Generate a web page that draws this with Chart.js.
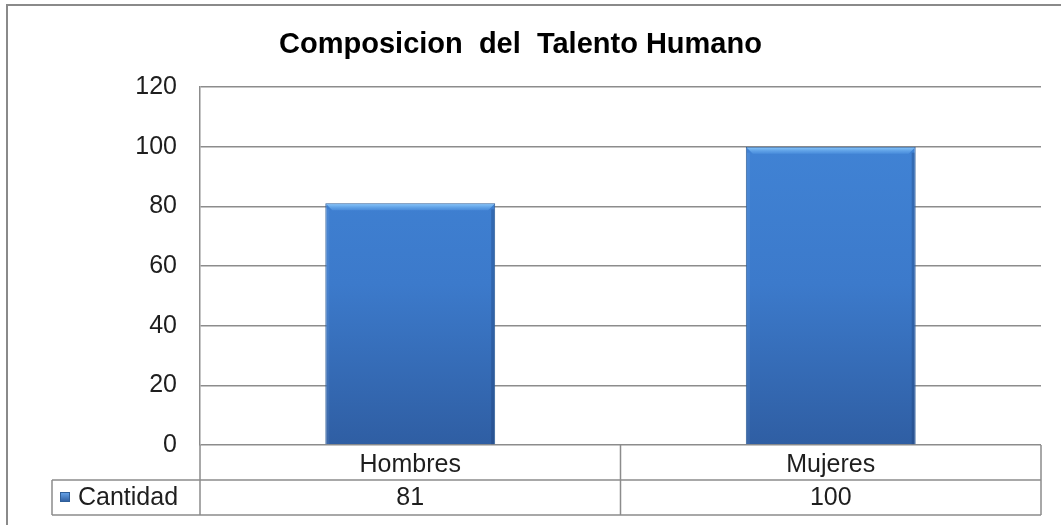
<!DOCTYPE html>
<html>
<head>
<meta charset="utf-8">
<script src="https://cdn.jsdelivr.net/npm/chart.js@4/dist/chart.umd.min.js"></script>
<style>
  html, body { margin: 0; padding: 0; background: #fff; }
  #wrap { width: 1061px; height: 525px; }
</style>
</head>
<body>
<div id="wrap"><canvas id="chart" width="1061" height="525"></canvas></div>
<script>
// Chart data
const categories = ['Hombres', 'Mujeres'];
const seriesName = 'Cantidad';
const cantidad = [81, 100];
const yTicks = [0, 20, 40, 60, 80, 100, 120];

const LINE = '#8c8c8c';
const TEXT = '#1e1e1e';
const FONT = 'Arial, "Liberation Sans", sans-serif';
const ROW_H = 35;

// Vertical blue gradient for the bars
function barFill(context) {
    const chart = context.chart;
    const area = chart.chartArea;
    if (!area) return '#3a73c2';
    const g = chart.ctx.createLinearGradient(0, area.top, 0, area.bottom);
    g.addColorStop(0, '#4286d8');
    g.addColorStop(0.55, '#3c7acb');
    g.addColorStop(1, '#2f5ea3');
    return g;
}

// Outer frame around the whole chart
const framePlugin = {
    id: 'frame',
    beforeDraw(chart) {
        const ctx = chart.ctx;
        ctx.save();
        ctx.fillStyle = '#fff';
        ctx.fillRect(0, 0, chart.width, chart.height);
        ctx.strokeStyle = '#8a8a8a';
        ctx.lineWidth = 2;
        ctx.strokeRect(7, 5, chart.width + 20, chart.height + 20);
        ctx.restore();
    }
};

// Light bevel on top of each bar
const bevelPlugin = {
    id: 'bevel',
    afterDatasetsDraw(chart) {
        const ctx = chart.ctx;
        const meta = chart.getDatasetMeta(0);
        ctx.save();
        meta.data.forEach(bar => {
            const l = bar.x - bar.width / 2, r = bar.x + bar.width / 2, t = bar.y;
            const g = ctx.createLinearGradient(0, t, 0, t + 7);
            g.addColorStop(0, 'rgba(150,210,255,0.95)');
            g.addColorStop(1, 'rgba(100,170,240,0.3)');
            ctx.fillStyle = g;
            ctx.beginPath();
            ctx.moveTo(l + 1, t + 1);
            ctx.lineTo(r - 1, t + 1);
            ctx.lineTo(r - 7, t + 7);
            ctx.lineTo(l + 7, t + 7);
            ctx.closePath();
            ctx.fill();
            ctx.fillStyle = 'rgba(25,55,105,0.3)';
            ctx.fillRect(r - 4, t + 6, 3, bar.base - t - 6);
            ctx.fillStyle = 'rgba(255,255,255,0.06)';
            ctx.fillRect(l + 1, t + 6, 3, bar.base - t - 6);
        });
        ctx.restore();
    }
};

// Data table under the x axis
const tablePlugin = {
    id: 'dataTable',
    afterDraw(chart) {
        const ctx = chart.ctx;
        const area = chart.chartArea;
        const x = chart.scales.x;
        const catW = (area.right - area.left) / categories.length;
        const y0 = area.bottom, y1 = y0 + ROW_H, y2 = y1 + ROW_H;
        const tableLeft = 52;

        ctx.save();
        ctx.strokeStyle = LINE;
        ctx.lineWidth = 1.5;
        ctx.beginPath();
        ctx.moveTo(tableLeft, y1); ctx.lineTo(area.right, y1);
        ctx.moveTo(tableLeft, y2); ctx.lineTo(area.right, y2);
        ctx.moveTo(tableLeft, y1); ctx.lineTo(tableLeft, y2);
        ctx.moveTo(area.left, y0); ctx.lineTo(area.left, y2);
        for (let i = 0; i < categories.length; i++) {
            const edge = x.getPixelForValue(i) + catW / 2;
            ctx.moveTo(edge, y0); ctx.lineTo(edge, y2);
        }
        ctx.stroke();

        // legend key
        const kx = 60, ky = y1 + 12, ks = 10;
        const kg = ctx.createLinearGradient(0, ky, 0, ky + ks);
        kg.addColorStop(0, '#6aa8ee');
        kg.addColorStop(1, '#2d5b9c');
        ctx.fillStyle = kg;
        ctx.fillRect(kx, ky, ks, ks);
        ctx.strokeStyle = '#2f5f99';
        ctx.lineWidth = 1;
        ctx.strokeRect(kx + 0.5, ky + 0.5, ks - 1, ks - 1);

        ctx.fillStyle = TEXT;
        ctx.font = '25px ' + FONT;
        ctx.textBaseline = 'middle';
        ctx.textAlign = 'left';
        ctx.fillText(seriesName, 78, (y1 + y2) / 2 + 1);
        ctx.textAlign = 'center';
        cantidad.forEach((v, i) => {
            ctx.fillText(String(v), x.getPixelForValue(i), (y1 + y2) / 2 + 1);
        });
        ctx.restore();
    }
};

new Chart(document.getElementById('chart'), {
    type: 'bar',
    data: {
        labels: categories,
        datasets: [{
            label: seriesName,
            data: cantidad,
            backgroundColor: barFill,
            borderColor: '#2f5f99',
            borderWidth: 1,
            barPercentage: 0.404,
            categoryPercentage: 1.0
        }]
    },
    options: {
        responsive: false,
        animation: false,
        layout: { padding: { left: 0, right: 20, top: 0, bottom: 0 } },
        plugins: {
            legend: { display: false },
            tooltip: { enabled: false },
            title: {
                display: true,
                text: 'Composicion  del  Talento Humano',
                color: '#000',
                font: { family: FONT, size: 29, weight: 'bold' },
                padding: { top: 28, bottom: 24.2 }
            }
        },
        scales: {
            x: {
                grid: { display: false },
                border: { display: false },
                ticks: { color: TEXT, font: { family: FONT, size: 25 }, padding: -3 },
                afterFit(scale) { scale.height = 80; }
            },
            y: {
                min: 0,
                max: 120,
                afterBuildTicks(scale) { scale.ticks = yTicks.map(v => ({ value: v })); },
                grid: { color: LINE, lineWidth: 1.5, drawTicks: false },
                border: { display: true, color: LINE, width: 1.5 },
                ticks: { color: TEXT, font: { family: FONT, size: 25 }, padding: 23 },
                afterFit(scale) { scale.width = 200; }
            }
        }
    },
    plugins: [framePlugin, bevelPlugin, tablePlugin]
});
</script>
</body>
</html>
